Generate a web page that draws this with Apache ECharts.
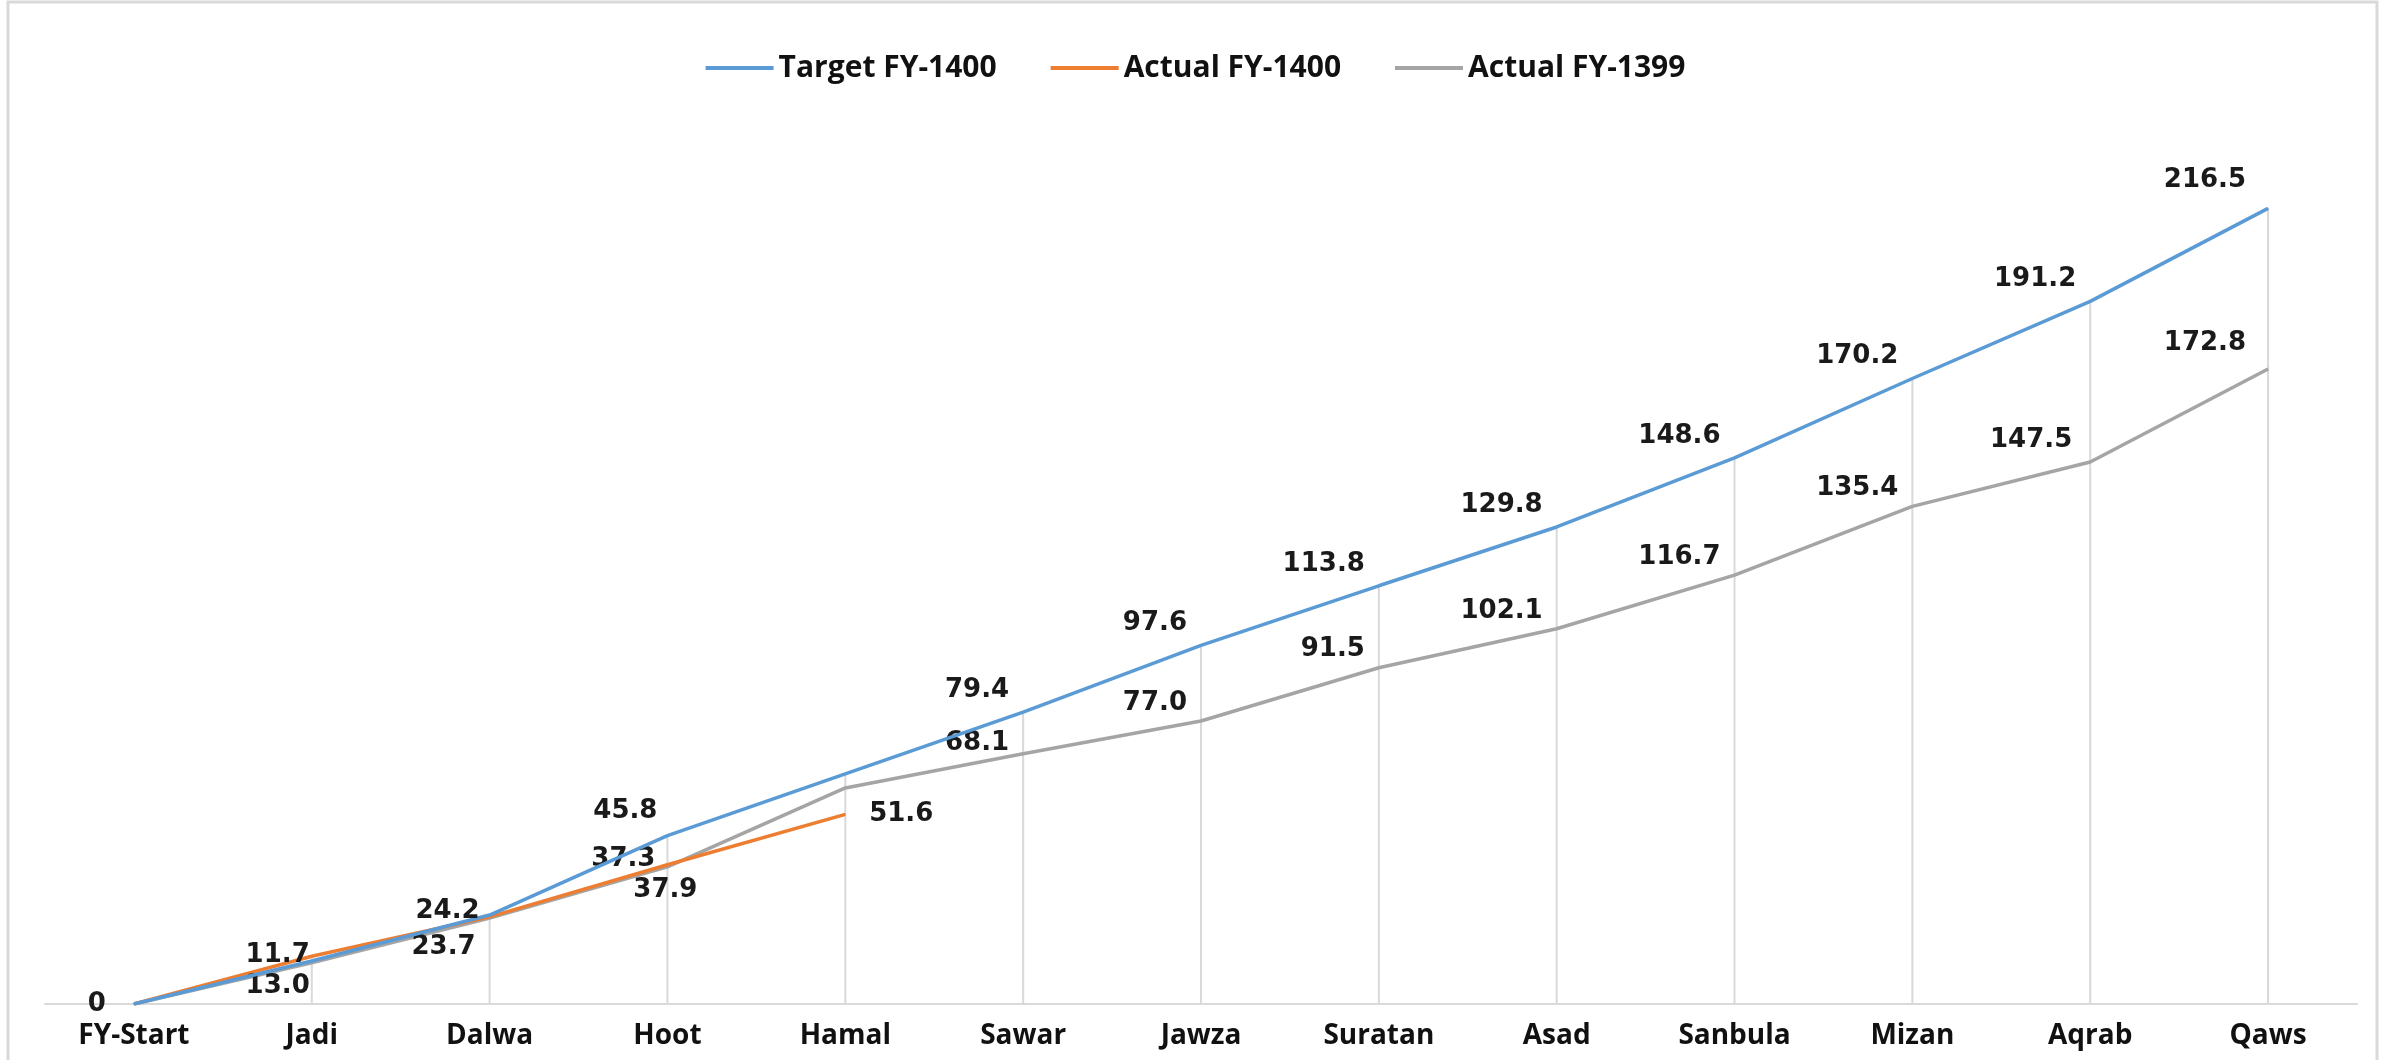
<!DOCTYPE html>
<html>
<head>
<meta charset="utf-8">
<script src="https://cdn.jsdelivr.net/npm/echarts@6/dist/echarts.min.js"></script>
<style>
html, body { margin: 0; padding: 0; background: #fff; }
#chart { width: 2391px; height: 1060px; }
</style>
</head>
<body>
<div id="chart"></div>
<script>
// months of the fiscal year
var months = ['FY-Start', 'Jadi', 'Dalwa', 'Hoot', 'Hamal', 'Sawar', 'Jawza', 'Suratan', 'Asad', 'Sanbula', 'Mizan', 'Aqrab', 'Qaws'];
var target1400 = [0, 11.7, 24.2, 45.8, 62.6, 79.4, 97.6, 113.8, 129.8, 148.6, 170.2, 191.2, 216.5];
var actual1400 = [0, 13.0, 23.7, 37.9, 51.6, null, null, null, null, null, null, null, null];
var actual1399 = [0, 11.2, 23.4, 37.3, 58.8, 68.1, 77.0, 91.5, 102.1, 116.7, 135.4, 147.5, 172.8];

// which points carry a data label, and where it sits (right edge of text relative to the point)
var targetLabelShow = [true, true, true, true, false, true, true, true, true, true, true, true, true];
var a1400LabelShow = [false, true, true, true, true];
var a1399LabelShow = [false, false, false, true, false, true, true, true, true, true, true, true, true];
var targetDefault = [-14, -22];
var a1399Default = [-14, -18];
var targetOffsets = { 0: [-28, 0], 1: [-2, -6], 2: [-10, -4], 3: [-10, -24], 12: [-22, -28] };
var a1400Offsets = { 1: [-2, 30], 2: [-14, 30], 3: [30, 26], 4: [88, 0] };
var a1399Offsets = { 3: [-12, -8], 5: [-14, -10], 11: [-18, -22], 12: [-22, -26] };

function fmt(v) {
	return v === 0 ? '0' : v.toFixed(1);
}

function buildData(values, shows, offsets, def) {
	return values.map(function (v, i) {
		if (v === null) return null;
		return {
			value: v,
			label: {
				show: !!shows[i],
				offset: offsets[i] || def
			}
		};
	});
}

// drop lines up to the highest point in each month
var dropHeights = months.map(function (m, i) {
	return Math.max(target1400[i], actual1399[i], actual1400[i] || 0);
});

var labelStyle = {
	position: 'inside',
	align: 'right',
	verticalAlign: 'middle',
	fontFamily: 'DejaVu Sans',
	fontWeight: 'bold',
	fontSize: 26,
	color: '#1a1a1a',
	formatter: function (p) { return fmt(p.value); }
};

var chartDom = document.getElementById('chart');
var myChart = echarts.init(chartDom);
var option = {
	animation: false,
	backgroundColor: '#fff',
	graphic: [{
		type: 'rect',
		shape: { x: 8, y: 2, width: 2369, height: 1070 },
		style: { fill: 'none', stroke: '#d9d9d9', lineWidth: 3 },
		silent: true
	}],
	legend: {
		data: ['Target FY-1400', 'Actual FY-1400', 'Actual FY-1399'],
		top: 48,
		left: 'center',
		icon: 'rect',
		itemWidth: 68,
		itemHeight: 4,
		itemGap: 54,
		textStyle: {
			fontFamily: 'Open Sans',
			fontWeight: 'bold',
			fontSize: 30,
			color: '#111'
		}
	},
	grid: {
		left: 45,
		right: 34,
		top: 122,
		bottom: 56
	},
	xAxis: {
		type: 'category',
		data: months,
		boundaryGap: true,
		axisLine: { lineStyle: { color: '#d9d9d9', width: 2 } },
		axisTick: { show: false },
		axisLabel: {
			margin: 18,
			fontFamily: 'Open Sans',
			fontWeight: 'bold',
			fontSize: 28,
			color: '#111'
		},
		splitLine: { show: false }
	},
	yAxis: {
		type: 'value',
		min: 0,
		max: 240,
		show: false,
		splitLine: { show: false }
	},
	series: [
		{
			name: 'drop',
			type: 'bar',
			data: dropHeights,
			barWidth: 2,
			silent: true,
			z: 1,
			itemStyle: { color: '#d9d9d9' }
		},
		{
			name: 'Actual FY-1399',
			type: 'line',
			data: buildData(actual1399, a1399LabelShow, a1399Offsets, a1399Default),
			symbol: 'circle',
			symbolSize: 1,
			z: 3,
			lineStyle: { color: '#a5a5a5', width: 3.5 },
			itemStyle: { color: '#a5a5a5' },
			label: labelStyle
		},
		{
			name: 'Actual FY-1400',
			type: 'line',
			data: buildData(actual1400, a1400LabelShow, a1400Offsets, [0, 0]),
			symbol: 'circle',
			symbolSize: 1,
			z: 4,
			lineStyle: { color: '#ed7d31', width: 3.5 },
			itemStyle: { color: '#ed7d31' },
			label: labelStyle
		},
		{
			name: 'Target FY-1400',
			type: 'line',
			data: buildData(target1400, targetLabelShow, targetOffsets, targetDefault),
			symbol: 'circle',
			symbolSize: 1,
			z: 5,
			lineStyle: { color: '#5b9bd5', width: 3.5 },
			itemStyle: { color: '#5b9bd5' },
			label: labelStyle
		}
	]
};
option && myChart.setOption(option);
</script>
</body>
</html>
